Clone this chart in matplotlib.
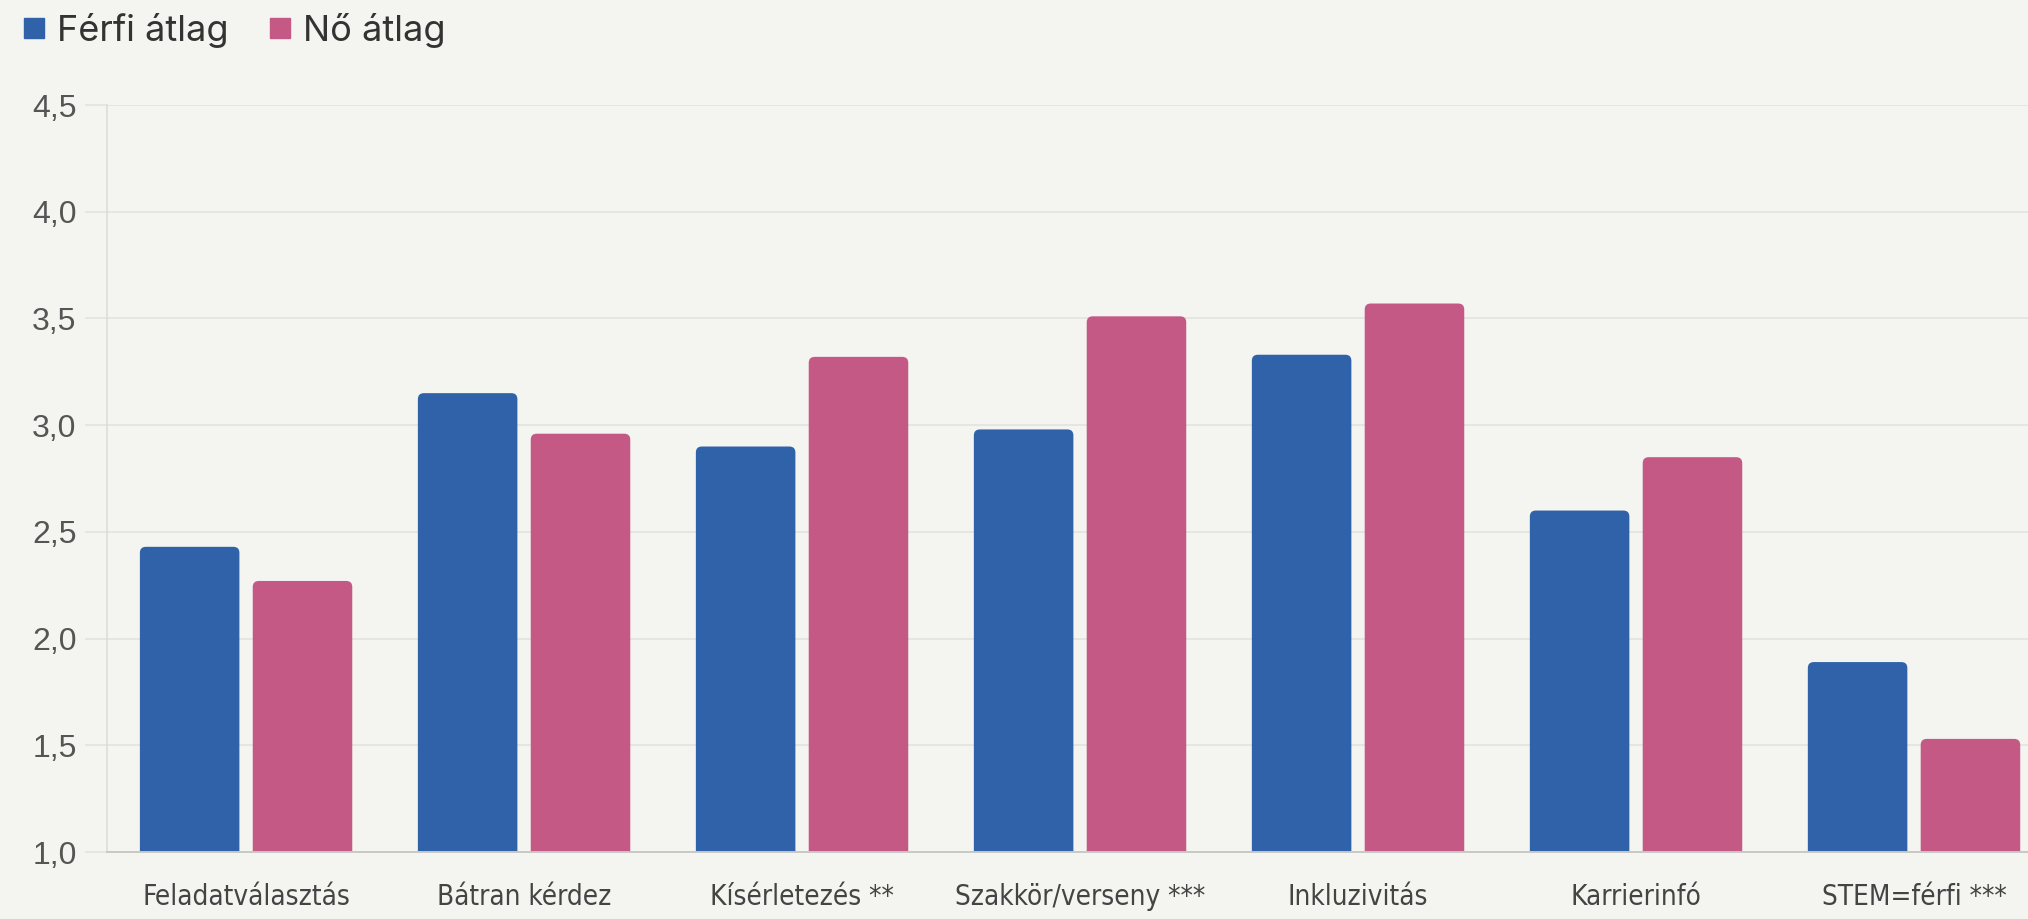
import numpy as np
import matplotlib
matplotlib.use('Agg')
import matplotlib.pyplot as plt
from matplotlib.patches import FancyBboxPatch
from matplotlib.lines import Line2D

# average scores by gender for each item
categories = ['Feladatválasztás', 'Bátran kérdez', 'Kísérletezés **', 'Szakkör/verseny ***',
              'Inkluzivitás', 'Karrierinfó', 'STEM=férfi ***']
ferfi = [2.43, 3.15, 2.90, 2.98, 3.33, 2.60, 1.89]
no = [2.27, 2.96, 3.32, 3.51, 3.57, 2.85, 1.53]
yticks = [1.0, 1.5, 2.0, 2.5, 3.0, 3.5, 4.0, 4.5]

bg = '#f4f4f0'
blue = '#2f62a8'
pink = '#c45985'
grid_c = '#e3e3df'

fig = plt.figure(figsize=(20.28, 9.19), dpi=100, facecolor=bg)
ax = fig.add_axes([0.0528, 0.0729, 0.9472, 0.8128], facecolor=bg)

x = np.arange(len(categories))
w = 0.358
off = 0.203
ax.set_xlim(-0.5, 6.41)
ax.set_ylim(1.0, 4.5)

fig.canvas.draw()
# keep the top corners round in screen space
bb = ax.get_window_extent()
xu = (ax.get_xlim()[1] - ax.get_xlim()[0]) / bb.width
yu = (ax.get_ylim()[1] - ax.get_ylim()[0]) / bb.height
aspect = yu / xu
rad = 6 * xu

for vals, d, col in [(ferfi, -off, blue), (no, off, pink)]:
    for xi, v in zip(x, vals):
        p = FancyBboxPatch((xi + d - w / 2, 0), w, v,
                           boxstyle='round,pad=0,rounding_size=%f' % rad,
                           mutation_aspect=aspect, facecolor=col, edgecolor='none',
                           zorder=3)
        ax.add_patch(p)

ax.set_yticks(yticks)
ax.set_yticklabels([('%.1f' % t).replace('.', ',') for t in yticks],
                   fontsize=23, color='#555555', family='Liberation Sans')
ax.set_xticks(x)
ax.set_xticklabels(categories, fontsize=20, color='#444444')
for t in ax.get_xticklabels():
    t.set_fontstretch('condensed')
ax.tick_params(axis='x', length=0, pad=22)
ax.tick_params(axis='y', length=16, color=grid_c, width=1.2, pad=6)
ax.grid(axis='y', color=grid_c, linewidth=1.2, zorder=0)
for s in ['top', 'right']:
    ax.spines[s].set_visible(False)
ax.spines['left'].set_color('#dcdcd8')
ax.spines['left'].set_linewidth(1.2)
ax.spines['bottom'].set_color('#c8c8c4')
ax.spines['bottom'].set_linewidth(1.4)
ax.spines['bottom'].set_zorder(4)

handles = [Line2D([], [], marker='s', linestyle='none', markersize=15,
                  markerfacecolor=blue, markeredgecolor=blue),
           Line2D([], [], marker='s', linestyle='none', markersize=15,
                  markerfacecolor=pink, markeredgecolor=pink)]
fig.legend(handles, ['Férfi átlag', 'Nő átlag'], loc='upper left',
           bbox_to_anchor=(0.0105, 0.986), ncol=2, frameon=False,
           borderpad=0, borderaxespad=0,
           prop={'family': 'Inter', 'size': 26}, labelcolor='#333333',
           handletextpad=0.3, columnspacing=1.05, handlelength=0.7)

fig.savefig('out.png', dpi=100, facecolor=bg)
